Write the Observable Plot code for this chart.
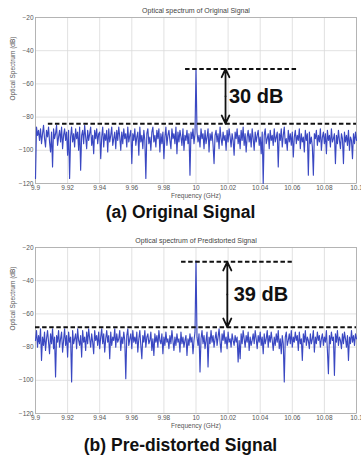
<!DOCTYPE html>
<html>
<head>
<meta charset="utf-8">
<script src="https://cdn.jsdelivr.net/npm/d3@7"></script>
<script src="https://cdn.jsdelivr.net/npm/@observablehq/plot@0.6"></script>
<style>
  html, body { margin: 0; padding: 0; background: #fff; }
  #wrap { position: relative; width: 361px; height: 460px; overflow: hidden; font-family: "Liberation Sans", Arial, sans-serif; }
  .panel { position: absolute; left: 0; }
  .cap { position: absolute; left: 0; width: 361px; text-align: center; font-weight: bold; font-size: 17.5px; color: #111; line-height: 22px; }
</style>
</head>
<body>
<div id="wrap">
  <div id="pa" class="panel" style="top:0px"></div>
  <div class="cap" style="top:201px">(a) Original Signal</div>
  <div id="pb" class="panel" style="top:228px"></div>
  <div class="cap" style="top:434px">(b) Pre-distorted Signal</div>
</div>
<script>
// ---- data ----
const freqStart = 9.9;       // GHz, first sample
const freqStep = 0.000625;   // GHz, sample spacing
const xTicks = [9.9, 9.92, 9.94, 9.96, 9.98, 10, 10.02, 10.04, 10.06, 10.08, 10.1];
const yTicks = [-120, -100, -80, -60, -40, -20];

const originalSpectrum = [
  -117,-86,-91,-88,-94,-87,-96,-90,-85,-93,-98,-88,-92,-86,-95,-101,-89,-110,-87,-93,
  -90,-85,-97,-92,-88,-95,-86,-99,-91,-87,-94,-89,-103,-88,-117,-92,-86,-95,-90,-98,
  -87,-93,-89,-100,-86,-112,-91,-88,-96,-85,-92,-99,-88,-94,-90,-86,-97,-91,-102,-88,
  -93,-87,-96,-90,-89,-105,-92,-86,-98,-90,-94,-88,-101,-87,-95,-91,-86,-97,-93,-89,
  -99,-88,-94,-86,-92,-100,-89,-96,-87,-93,-90,-98,-86,-95,-91,-88,-108,-90,-94,-87,
  -97,-92,-89,-103,-86,-95,-91,-99,-88,-94,-117,-90,-87,-96,-92,-100,-89,-86,-95,-91,
  -98,-88,-93,-87,-101,-90,-96,-89,-105,-92,-86,-97,-91,-88,-94,-99,-87,-93,-90,-96,
  -86,-102,-89,-95,-88,-92,-97,-87,-100,-91,-94,-88,-96,-90,-115,-89,-93,-87,-96,-90,
  -51,-89,-95,-91,-98,-87,-93,-90,-99,-88,-96,-92,-87,-101,-90,-94,-89,-97,-108,-91,
  -88,-95,-90,-99,-86,-93,-97,-89,-94,-91,-100,-88,-95,-87,-92,-98,-90,-94,-103,-89,
  -93,-87,-96,-91,-99,-88,-94,-86,-97,-90,-101,-92,-88,-95,-90,-98,-87,-93,-100,-89,
  -95,-91,-88,-97,-92,-102,-89,-120,-91,-87,-96,-93,-90,-99,-88,-94,-91,-97,-87,-95,
  -92,-89,-110,-90,-94,-87,-98,-91,-86,-96,-93,-100,-88,-95,-90,-97,-89,-104,-92,-88,
  -96,-91,-94,-87,-99,-90,-95,-92,-101,-88,-94,-90,-115,-89,-96,-92,-98,-115,-90,-93,
  -88,-97,-91,-95,-87,-100,-92,-89,-96,-90,-102,-88,-94,-91,-98,-87,-95,-93,-90,-108,
  -91,-96,-88,-94,-99,-90,-93,-108,-89,-95,-91,-97,-88,-100,-92,-94,-105,-90,-96,-89,
  -94
];
const predistortedSpectrum = [
  -76,-70,-80,-73,-78,-69,-88,-74,-79,-71,-82,-75,-70,-77,-84,-72,-78,-69,-81,-74,
  -98,-73,-77,-70,-80,-75,-71,-83,-76,-69,-79,-73,-86,-71,-77,-74,-101,-70,-78,-75,
  -72,-81,-69,-76,-79,-73,-86,-70,-77,-74,-82,-71,-78,-69,-75,-80,-72,-77,-84,-70,
  -76,-73,-79,-71,-81,-74,-69,-78,-72,-83,-75,-70,-77,-73,-87,-71,-79,-74,-76,-69,
  -80,-72,-77,-75,-70,-82,-74,-78,-71,-76,-99,-73,-69,-79,-75,-72,-81,-70,-77,-74,
  -78,-71,-83,-75,-70,-79,-87,-73,-77,-70,-80,-74,-72,-78,-76,-71,-82,-75,-85,-72,
  -77,-73,-80,-70,-76,-78,-72,-84,-74,-79,-71,-77,-75,-81,-73,-78,-70,-76,-82,-74,
  -79,-72,-77,-75,-83,-71,-78,-74,-80,-76,-73,-85,-75,-79,-72,-77,-74,-84,-76,-71,
  -28,-74,-79,-72,-95,-75,-70,-78,-73,-81,-76,-71,-92,-74,-78,-70,-77,-73,-80,-75,
  -71,-79,-74,-69,-77,-83,-72,-76,-70,-78,-74,-81,-71,-77,-75,-80,-72,-76,-79,-73,
  -77,-74,-89,-76,-87,-72,-78,-70,-75,-80,-73,-77,-71,-82,-74,-79,-76,-72,-78,-70,
  -75,-81,-73,-77,-71,-79,-74,-84,-72,-78,-75,-70,-80,-73,-77,-71,-76,-82,-74,-79,
  -72,-77,-70,-81,-75,-84,-73,-78,-101,-74,-71,-79,-76,-72,-78,-70,-80,-74,-77,-71,
  -76,-73,-82,-71,-78,-75,-88,-72,-77,-70,-79,-74,-76,-81,-72,-78,-75,-70,-83,-74,
  -78,-71,-76,-73,-80,-75,-72,-79,-74,-77,-70,-82,-96,-73,-78,-71,-76,-74,-97,-72,
  -77,-70,-79,-74,-76,-81,-72,-78,-71,-75,-80,-73,-88,-74,-78,-70,-77,-73,-79,-72,
  -75
];

// annotation values (dB levels, frequency spans)
const annA = { title: "Optical spectrum of Original Signal", top: -51, floor: -84,
  topX: [9.9935, 10.063], floorX: [9.908, 10.1], arrowX: 10.0184, label: "30 dB", labelX: 10.0205 };
const annB = { title: "Optical spectrum of Predistorted Signal", top: -28.6, floor: -68,
  topX: [9.991, 10.060], floorX: [9.9, 10.1], arrowX: 10.0195, label: "39 dB", labelX: 10.0235 };

const FONT = "Liberation Sans, Arial, sans-serif";

function panel(values, ann, height, marginTop) {
  const data = values.map((v, i) => ({ f: freqStart + freqStep * i, v }));
  const mid = (ann.top + ann.floor) / 2;
  return Plot.plot({
    width: 361,
    height,
    marginLeft: 35,
    marginRight: 5,
    marginTop,
    marginBottom: height - marginTop - 166,
    style: { fontFamily: FONT, background: "white" },
    x: { domain: [9.9, 10.1] },
    y: { domain: [-120, -20] },
    marks: [
      Plot.gridX(xTicks, { stroke: "#d9d9d9", strokeOpacity: 1, strokeWidth: 0.8 }),
      Plot.gridY(yTicks, { stroke: "#d9d9d9", strokeOpacity: 1, strokeWidth: 0.8 }),
      Plot.frame({ stroke: "#aaaaaa", strokeWidth: 0.8 }),
      Plot.axisX(xTicks, { tickSize: 0, tickPadding: 2, fontSize: 6.5, fill: "#555", label: null,
        tickFormat: d => String(d) }),
      Plot.axisY(yTicks, { tickSize: 0, tickPadding: 2, fontSize: 6.5, fill: "#555", label: null }),
      Plot.text(["Frequency (GHz)"], { frameAnchor: "bottom", dy: 14.5, fontSize: 6.5, fill: "#555" }),
      Plot.text(["Optical Spectrum (dB)"], { frameAnchor: "left", dx: -23, rotate: -90, fontSize: 6.5, fill: "#555" }),
      Plot.text([ann.title], { frameAnchor: "top", dy: -9, fontSize: 7, fill: "#444" }),
      Plot.lineY(data, { x: "f", y: "v", stroke: "#3a48c2", strokeWidth: 1.15 }),
      Plot.ruleY([ann.floor], { x1: ann.floorX[0], x2: ann.floorX[1], stroke: "#111", strokeWidth: 2, strokeDasharray: "4.5,2.6" }),
      Plot.ruleY([ann.top], { x1: ann.topX[0], x2: ann.topX[1], stroke: "#111", strokeWidth: 2, strokeDasharray: "4.5,2.6" }),
      Plot.arrow([ann.top, ann.floor], { x1: ann.arrowX, y1: mid, x2: ann.arrowX, y2: d => d,
        stroke: "#111", strokeWidth: 1.8, headLength: 8, headAngle: 50 }),
      Plot.text([ann.label], { x: ann.labelX, y: mid, textAnchor: "start", fontSize: 20, fontWeight: "bold", fill: "#111" })
    ]
  });
}

document.getElementById("pa").appendChild(panel(originalSpectrum, annA, 200, 17));
document.getElementById("pb").appendChild(panel(predistortedSpectrum, annB, 204, 19));
</script>
</body>
</html>
